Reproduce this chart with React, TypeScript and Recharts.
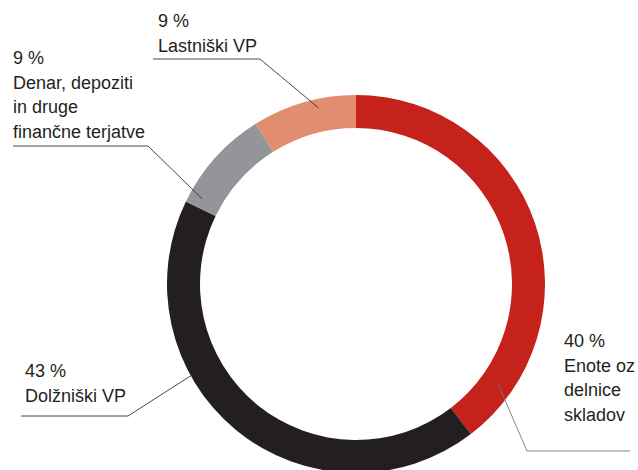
import { Cell, Pie, PieChart } from "recharts";

const categories = ["Enote oz delnice skladov", "Dolžniški VP", "Denar, depoziti in druge finančne terjatve", "Lastniški VP"];
const shares = [40, 43, 9, 9];
const colors = ["#c4221b", "#231f20", "#939598", "#e08e6f"];
const labelLines = [
  ["40 %", "Enote oz", "delnice", "skladov"],
  ["43 %", "Dolžniški VP"],
  ["9 %", "Denar, depoziti", "in druge", "finančne terjatve"],
  ["9 %", "Lastniški VP"],
];

const data = categories.map((name, i) => ({ name, value: shares[i] }));

// label placement: anchor on ring (angle clockwise from top, radius), elbow, line end, text origin
const layout = [
  { angle: 125, r: 173, elbow: [527, 451], end: [630, 451], text: [564, 347], lineColor: "#777" },
  { angle: 241, r: 187, elbow: [128, 416], end: [21, 416], text: [25, 377], lineColor: "#333" },
  { angle: 299, r: 176, elbow: [148, 146], end: [13, 146], text: [13, 64], lineColor: "#333" },
  { angle: 348, r: 180, elbow: [260, 59], end: [153, 59], text: [158, 27], lineColor: "#333" },
];

const renderLabel = (props: any) => {
  const { cx, cy, index } = props;
  const l = layout[index];
  const rad = (l.angle * Math.PI) / 180;
  const ax = cx + l.r * Math.sin(rad);
  const ay = cy - l.r * Math.cos(rad);
  return (
    <g key={`lbl-${index}`}>
      <polyline
        points={`${ax},${ay} ${l.elbow[0]},${l.elbow[1]} ${l.end[0]},${l.end[1]}`}
        fill="none"
        stroke={l.lineColor}
        strokeWidth={0.9}
      />
      <text x={l.text[0]} y={l.text[1]} fill="#231f20" fontSize={18} fontFamily="Liberation Sans, Arial, sans-serif">
        {labelLines[index].map((t, j) => (
          <tspan key={j} x={l.text[0]} dy={j === 0 ? 0 : 24.5}>
            {t}
          </tspan>
        ))}
      </text>
    </g>
  );
};

export default function App() {
  return (
    <div style={{ position: "absolute", left: 0, top: 0, width: 638, height: 470, background: "#fff" }}>
      <PieChart width={638} height={470} margin={{ top: 0, right: 0, bottom: 0, left: 0 }}>
        <Pie
          data={data}
          dataKey="value"
          nameKey="name"
          cx={356}
          cy={284}
          innerRadius={156}
          outerRadius={189}
          startAngle={90}
          endAngle={-270}
          stroke="none"
          label={renderLabel}
          labelLine={false}
          isAnimationActive={false}
        >
          {data.map((d, i) => (
            <Cell key={d.name} fill={colors[i]} />
          ))}
        </Pie>
      </PieChart>
    </div>
  );
}
